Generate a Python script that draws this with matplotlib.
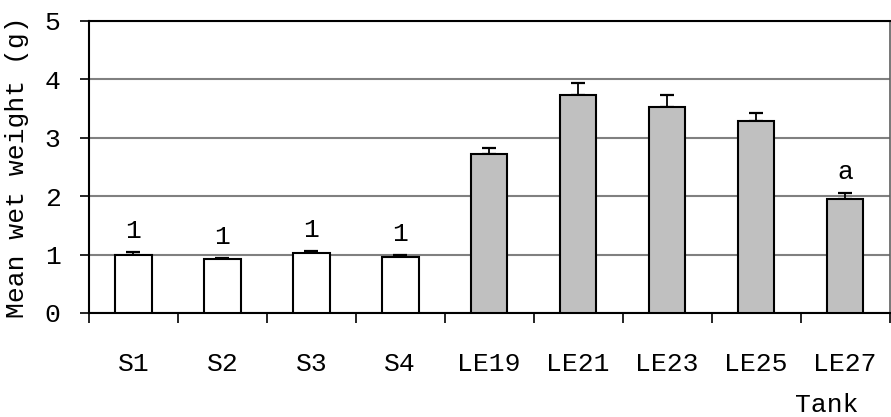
import matplotlib
matplotlib.use("Agg")
import matplotlib.pyplot as plt
import numpy as np

tanks = ["S1", "S2", "S3", "S4", "LE19", "LE21", "LE23", "LE25", "LE27"]
mean_weight = [1.00, 0.92, 1.02, 0.96, 2.73, 3.73, 3.52, 3.28, 1.95]
std_error = [0.04, 0.03, 0.04, 0.03, 0.10, 0.20, 0.21, 0.14, 0.10]
letters = ["1", "1", "1", "1", "", "", "", "", "a"]
bar_colors = ["white"] * 4 + ["#c0c0c0"] * 5

plt.rcParams["font.family"] = ["Liberation Mono", "DejaVu Sans Mono"]
FS = 19

fig = plt.figure(figsize=(8.91, 4.17), dpi=100)
ax = fig.add_axes([89 / 891, (417 - 313) / 417, 800.5 / 891, 292 / 417])

x = np.arange(len(tanks)) + 0.5
err = [np.zeros(len(std_error)), std_error]
ax.bar(x, mean_weight, width=0.41, color=bar_colors, edgecolor="black",
       linewidth=1.5, zorder=3)
ax.errorbar(x, mean_weight, yerr=err, fmt="none", ecolor="black",
            elinewidth=1.3, capsize=5, capthick=1.6, zorder=2)

for xi, m, e, t in zip(x, mean_weight, std_error, letters):
    if t:
        ax.annotate(t, (xi, m + e), xytext=(0, 10), textcoords="offset points",
                    ha="center", va="baseline", fontsize=FS)

ax.set_xlim(0, len(tanks))
ax.set_ylim(0, 5)
ax.set_yticks(range(0, 6))
ax.set_yticklabels([str(v) for v in range(0, 6)], fontsize=FS)
ax.tick_params(axis="y", direction="out", length=6.5, width=1.2, pad=14)

ax.set_xticks(x)
ax.set_xticklabels(tanks, fontsize=FS)
ax.tick_params(axis="x", which="major", length=0, pad=28)
ax.set_xticks(np.arange(len(tanks) + 1), minor=True)
ax.tick_params(axis="x", which="minor", direction="out", length=7.5, width=1.2)

ax.yaxis.grid(True, color="#808080", linewidth=1.5, zorder=0)
ax.set_axisbelow(True)

for side in ("left", "bottom", "top"):
    ax.spines[side].set_color("black")
    ax.spines[side].set_linewidth(1.5)
ax.spines["right"].set_color("#606060")
ax.spines["right"].set_linewidth(1.2)

ax.set_ylabel("Mean wet weight (g)", fontsize=FS, labelpad=11)
fig.text(827 / 891, 1 - 405 / 417, "Tank", fontsize=FS, ha="center", va="center")

fig.savefig("out.png", dpi=100)
